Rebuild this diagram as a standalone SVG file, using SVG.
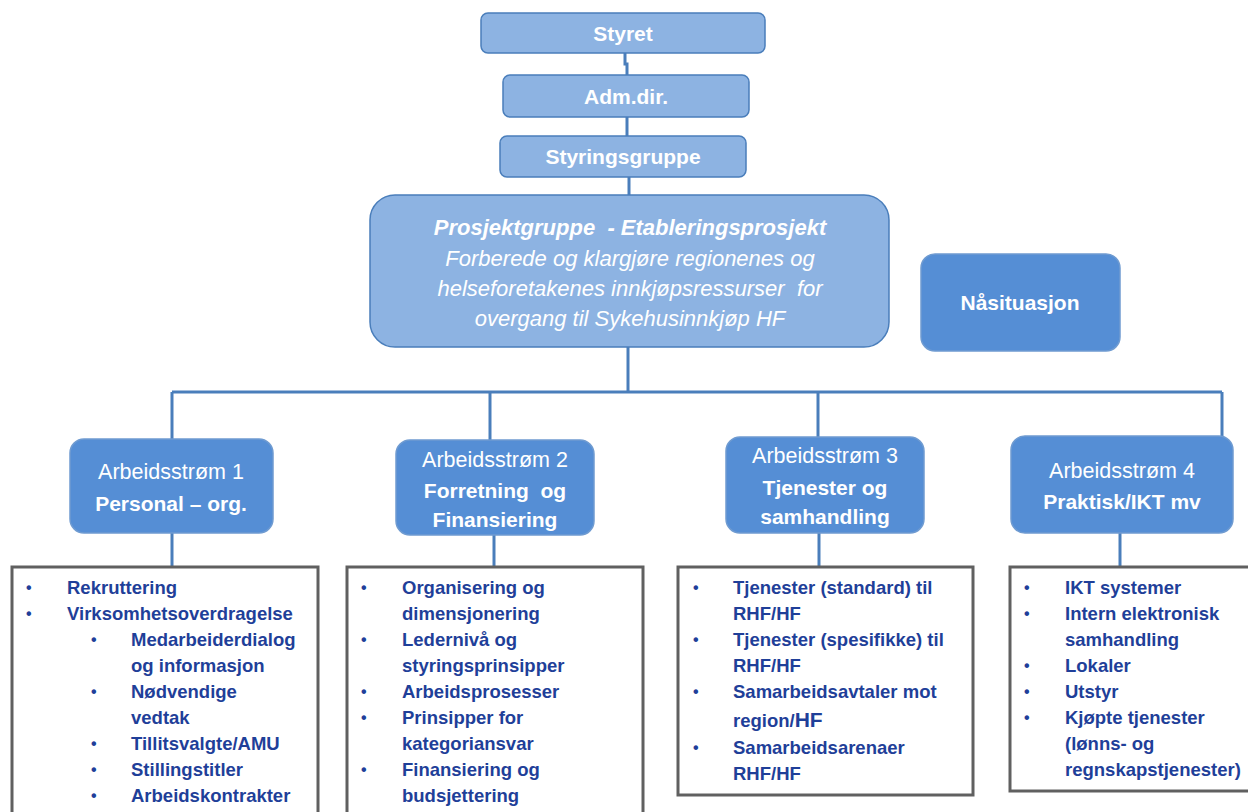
<svg xmlns="http://www.w3.org/2000/svg" width="1248" height="812" viewBox="0 0 1248 812">
<style>
.light{fill:#8DB3E2;stroke:#4A7EBB;stroke-width:1.5}
.mid{fill:#558ED5;stroke:#6F9BD1;stroke-width:1.5}
.list{fill:#FFFFFF;stroke:#606060;stroke-width:3}
.conn{fill:none;stroke:#4A7EBB;stroke-width:3}
text{font-family:"Liberation Sans",Arial,sans-serif}
.wb{fill:#FFFFFF;font-weight:bold;font-size:21px;text-anchor:middle}
.wr{fill:#FFFFFF;font-size:21.5px;text-anchor:middle}
.wi{fill:#FFFFFF;font-style:italic;font-size:22px;text-anchor:middle}
.li{fill:#1F3F99;font-weight:bold;font-size:18.5px}
.bu{fill:#1F3F99;font-size:16px;font-weight:bold}
</style>
<g id="connectors">
<path class="conn" d="M625 53 V64 H627 V75"/>
<path class="conn" d="M627 117 V136"/>
<path class="conn" d="M629 177 V196"/>
<path class="conn" d="M628 347 V392"/>
<path class="conn" d="M172 392 H1222"/>
<path class="conn" d="M172 392 V439"/>
<path class="conn" d="M490 392 V440"/>
<path class="conn" d="M818 392 V437"/>
<path class="conn" d="M1222 392 V436"/>
<path class="conn" d="M172 533 V567"/>
<path class="conn" d="M494 535 V567"/>
<path class="conn" d="M819 533 V567"/>
<path class="conn" d="M1120 533 V567"/>
</g>
<g id="styret">
<rect class="light" x="481" y="13" width="284" height="40" rx="7"/>
<text class="wb" x="623" y="41">Styret</text>
</g>
<g id="admdir">
<rect class="light" x="503" y="75" width="246" height="42" rx="7"/>
<text class="wb" x="626" y="104">Adm.dir.</text>
</g>
<g id="styringsgruppe">
<rect class="light" x="500" y="136" width="246" height="41" rx="7"/>
<text class="wb" x="623" y="164">Styringsgruppe</text>
</g>
<g id="prosjektgruppe">
<rect class="light" x="370" y="195" width="519" height="152" rx="25"/>
<text class="wi" x="630" y="235" font-weight="bold" font-size="21.5px">Prosjektgruppe &#160;- Etableringsprosjekt</text>
<text class="wi" x="630" y="266">Forberede og klargjøre regionenes og</text>
<text class="wi" x="630" y="296">helseforetakenes innkjøpsressurser &#160;for</text>
<text class="wi" x="630" y="326">overgang til Sykehusinnkjøp HF</text>
</g>
<g id="naasituasjon">
<rect class="mid" x="921" y="254" width="199" height="97" rx="14"/>
<text class="wb" x="1020" y="310">Nåsituasjon</text>
</g>
<g id="arb1">
<rect class="mid" x="70" y="439" width="203" height="94" rx="14"/>
<text class="wr" x="171" y="479">Arbeidsstrøm 1</text>
<text class="wb" x="171" y="511">Personal – org.</text>
</g>
<g id="arb2">
<rect class="mid" x="396" y="440" width="198" height="95" rx="14"/>
<text class="wr" x="495" y="467">Arbeidsstrøm 2</text>
<text class="wb" x="495" y="498">Forretning &#160;og</text>
<text class="wb" x="495" y="527">Finansiering</text>
</g>
<g id="arb3">
<rect class="mid" x="726" y="437" width="198" height="96" rx="14"/>
<text class="wr" x="825" y="463">Arbeidsstrøm 3</text>
<text class="wb" x="825" y="495">Tjenester og</text>
<text class="wb" x="825" y="524">samhandling</text>
</g>
<g id="arb4">
<rect class="mid" x="1011" y="436" width="222" height="97" rx="14"/>
<text class="wr" x="1122" y="478">Arbeidsstrøm 4</text>
<text class="wb" x="1122" y="509">Praktisk/IKT mv</text>
</g>
<g id="list1">
<rect class="list" x="12" y="567" width="306" height="260"/>
<text class="bu" x="26" y="593">•</text><text class="li" x="67" y="594">Rekruttering</text>
<text class="bu" x="26" y="619">•</text><text class="li" x="67" y="620">Virksomhetsoverdragelse</text>
<text class="bu" x="91" y="645">•</text><text class="li" x="131" y="646">Medarbeiderdialog</text>
<text class="li" x="131" y="672">og informasjon</text>
<text class="bu" x="91" y="697">•</text><text class="li" x="131" y="698">Nødvendige</text>
<text class="li" x="131" y="724">vedtak</text>
<text class="bu" x="91" y="749">•</text><text class="li" x="131" y="750">Tillitsvalgte/AMU</text>
<text class="bu" x="91" y="775">•</text><text class="li" x="131" y="776">Stillingstitler</text>
<text class="bu" x="91" y="801">•</text><text class="li" x="131" y="802">Arbeidskontrakter</text>
</g>
<g id="list2">
<rect class="list" x="347" y="567" width="296" height="260"/>
<text class="bu" x="361" y="593">•</text><text class="li" x="402" y="594">Organisering og</text>
<text class="li" x="402" y="620">dimensjonering</text>
<text class="bu" x="361" y="645">•</text><text class="li" x="402" y="646">Ledernivå og</text>
<text class="li" x="402" y="672">styringsprinsipper</text>
<text class="bu" x="361" y="697">•</text><text class="li" x="402" y="698">Arbeidsprosesser</text>
<text class="bu" x="361" y="723">•</text><text class="li" x="402" y="724">Prinsipper for</text>
<text class="li" x="402" y="750">kategoriansvar</text>
<text class="bu" x="361" y="775">•</text><text class="li" x="402" y="776">Finansiering og</text>
<text class="li" x="402" y="802">budsjettering</text>
</g>
<g id="list3">
<rect class="list" x="678" y="567" width="295" height="228"/>
<text class="bu" x="693" y="593">•</text><text class="li" x="733" y="594">Tjenester (standard) til</text>
<text class="li" x="733" y="620">RHF/HF</text>
<text class="bu" x="693" y="645">•</text><text class="li" x="733" y="646">Tjenester (spesifikke) til</text>
<text class="li" x="733" y="672">RHF/HF</text>
<text class="bu" x="693" y="697">•</text><text class="li" x="733" y="698">Samarbeidsavtaler mot</text>
<text class="li" x="733" y="727">region/<tspan font-size="21px">HF</tspan></text>
<text class="bu" x="693" y="753">•</text><text class="li" x="733" y="754">Samarbeidsarenaer</text>
<text class="li" x="733" y="780">RHF/HF</text>
</g>
<g id="list4">
<rect class="list" x="1010" y="567" width="250" height="224"/>
<text class="bu" x="1024" y="593">•</text><text class="li" x="1065" y="594">IKT systemer</text>
<text class="bu" x="1024" y="619">•</text><text class="li" x="1065" y="620">Intern elektronisk</text>
<text class="li" x="1065" y="646">samhandling</text>
<text class="bu" x="1024" y="671">•</text><text class="li" x="1065" y="672">Lokaler</text>
<text class="bu" x="1024" y="697">•</text><text class="li" x="1065" y="698">Utstyr</text>
<text class="bu" x="1024" y="723">•</text><text class="li" x="1065" y="724">Kjøpte tjenester</text>
<text class="li" x="1065" y="750">(lønns- og</text>
<text class="li" x="1065" y="776">regnskapstjenester)</text>
</g>
</svg>
